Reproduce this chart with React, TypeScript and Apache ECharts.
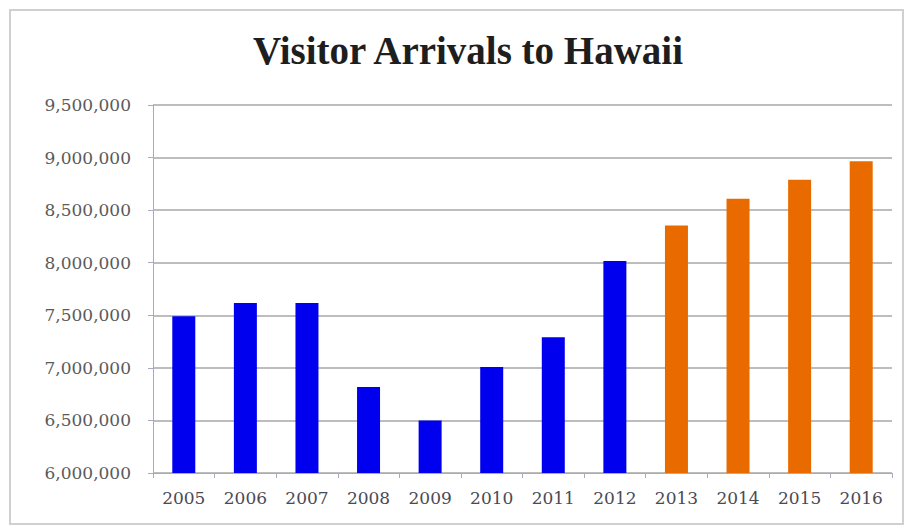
import React, { useEffect, useRef } from "react";
import * as echarts from "echarts";

const years = ["2005", "2006", "2007", "2008", "2009", "2010", "2011", "2012", "2013", "2014", "2015", "2016"];
const earlyArrivals = [7491000, 7617000, 7617000, 6817000, 6500000, 7007000, 7292000, 8016000, null, null, null, null];
const laterArrivals = [null, null, null, null, null, null, null, null, 8355000, 8609000, 8789000, 8966000];
const yMin = 6000000;
const yMax = 9500000;
const yStep = 500000;

export default function App() {
  const ref = useRef<HTMLDivElement>(null);
  useEffect(() => {
    if (!ref.current) return;
    const chart = echarts.init(ref.current, null, { renderer: "svg" });
    const serif = "'Liberation Serif', 'DejaVu Serif', serif";
    const wideSerif = "'DejaVu Serif', 'Liberation Serif', serif";
    chart.setOption({
      animation: false,
      backgroundColor: "#ffffff",
      graphic: [
        {
          type: "rect",
          shape: { x: 10, y: 10, width: 893, height: 514 },
          style: { fill: "none", stroke: "#d0d0d0", lineWidth: 2 },
          silent: true,
        },
      ],
      title: {
        text: "Visitor Arrivals to Hawaii",
        left: 463,
        textAlign: "center",
        top: 26,
        textStyle: {
          fontFamily: serif,
          fontWeight: "bold",
          fontSize: 39,
          color: "#1e1e1e",
        },
      },
      grid: { left: 153, right: 20, top: 105, bottom: 59, containLabel: false },
      xAxis: {
        type: "category",
        data: years,
        axisLine: { show: true, lineStyle: { color: "#a9a9c0", width: 1 } },
        axisTick: { show: true, alignWithLabel: false, length: 5, lineStyle: { color: "#a9a9c0" } },
        axisLabel: {
          fontFamily: wideSerif,
          fontSize: 17,
          color: "#4a4a55",
          margin: 16,
          interval: 0,
        },
      },
      yAxis: {
        type: "value",
        min: yMin,
        max: yMax,
        interval: yStep,
        axisLine: { show: true, lineStyle: { color: "#a9a9c0", width: 1 } },
        axisTick: { show: true, length: 5, lineStyle: { color: "#a9a9c0" } },
        splitLine: { show: true, lineStyle: { color: "#bdbdbd", width: 2 } },
        axisLabel: {
          fontFamily: wideSerif,
          fontSize: 17,
          color: "#5a5a5a",
          margin: 22,
          formatter: (v: number) => v.toLocaleString("en-US"),
        },
      },
      series: [
        {
          name: "Arrivals",
          type: "bar",
          stack: "v",
          data: earlyArrivals,
          barWidth: 23,
          itemStyle: { color: "#0000EE" },
        },
        {
          name: "Arrivals later",
          type: "bar",
          stack: "v",
          data: laterArrivals,
          barWidth: 23,
          itemStyle: { color: "#E96B00" },
        },
      ],
    });
    return () => chart.dispose();
  }, []);
  return <div ref={ref} style={{ width: 912, height: 532, position: "absolute", left: 0, top: 0 }} />;
}
